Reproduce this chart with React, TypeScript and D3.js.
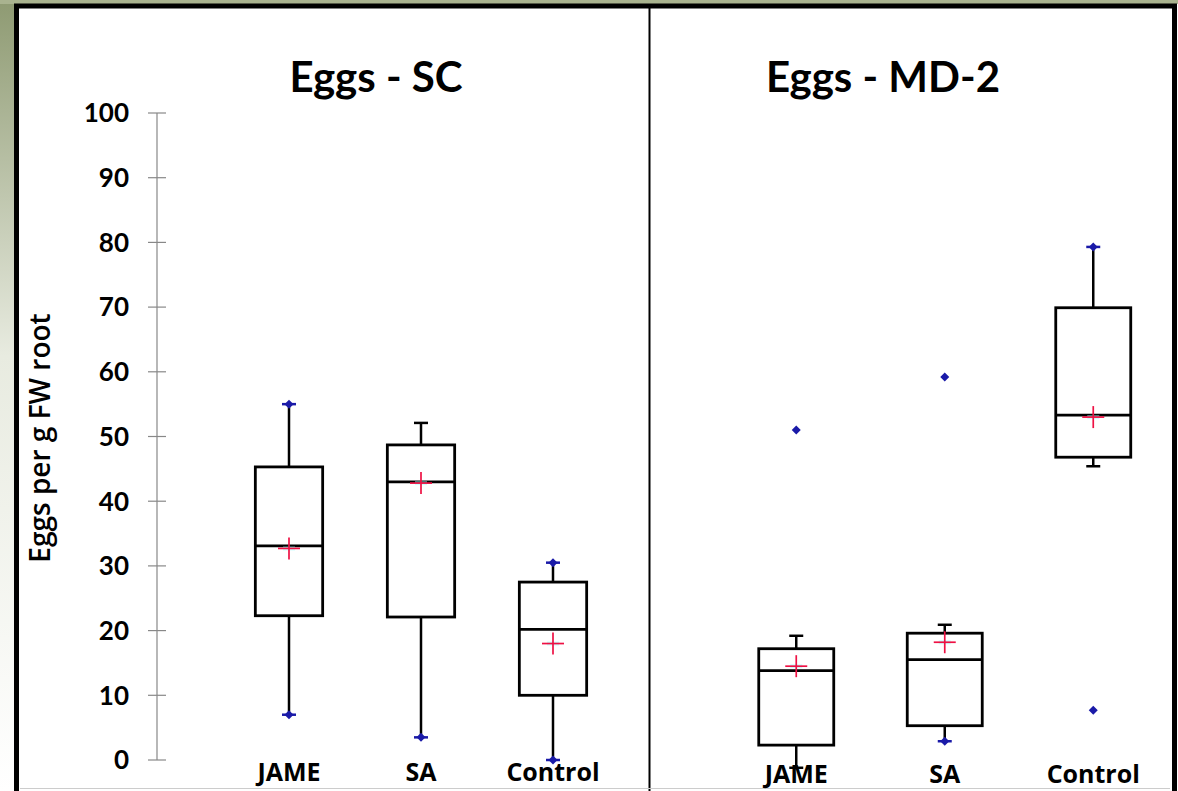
import React from "react";
import * as d3 from "d3";

const categories = ["JAME", "SA", "Control"];
const panelTitles = ["Eggs - SC", "Eggs - MD-2"];
const yTicks = [0, 10, 20, 30, 40, 50, 60, 70, 80, 90, 100];
const yLabel = "Eggs per g FW root";

// Eggs - SC
const scMin = [7, 3.5, 0];
const scQ1 = [22.3, 22.1, 10];
const scMedian = [33.1, 43.0, 20.2];
const scQ3 = [45.3, 48.7, 27.5];
const scMax = [55, 52.1, 30.5];
const scMean = [32.7, 42.8, 18.0];
const scPoints = [[7, 55], [3.5], [0, 30.5]];

// Eggs - MD-2
const mdMin = [-1.2, 2.9, 45.4];
const mdQ1 = [2.3, 5.3, 46.8];
const mdMedian = [13.8, 15.5, 53.3];
const mdQ3 = [17.2, 19.6, 69.9];
const mdMax = [19.2, 20.9, 79.3];
const mdMean = [14.5, 18.2, 53.0];
const mdPoints = [[51.0], [59.2, 2.9], [79.3, 7.7]];

const W = 1178;
const H = 791;
const FONT = "Lato, 'Open Sans', sans-serif";
const FONT2 = "'Open Sans', Lato, sans-serif";

const y = d3.scaleLinear().domain([0, 100]).range([760, 113]);

const xLeft = d3.scaleBand<string>().domain(categories).range([223, 619]).padding(0);
const xRight = d3.scaleBand<string>().domain(categories).range([722, 1167.5]).padding(0);

type Stats = {
  min: number[]; q1: number[]; median: number[]; q3: number[]; max: number[]; mean: number[]; points: number[][];
};

const scStats: Stats = { min: scMin, q1: scQ1, median: scMedian, q3: scQ3, max: scMax, mean: scMean, points: scPoints };
const mdStats: Stats = { min: mdMin, q1: mdQ1, median: mdMedian, q3: mdQ3, max: mdMax, mean: mdMean, points: mdPoints };

const BLUE = "#1a1aa8";
const RED = "#ee1144";

function Boxes({ x, s, boxFrac }: { x: d3.ScaleBand<string>; s: Stats; boxFrac: number }) {
  const bw = x.bandwidth() * boxFrac;
  return (
    <g>
      {categories.map((c, i) => {
        const cx = (x(c) as number) + x.bandwidth() / 2;
        const pts = s.points[i];
        const hasPt = (v: number) => pts.some((p) => Math.abs(p - v) < 0.01);
        const capW = 14;
        return (
          <g key={c}>
            <line x1={cx} x2={cx} y1={y(s.q3[i])} y2={y(s.max[i])} stroke="#000" strokeWidth={2.5} />
            <line x1={cx} x2={cx} y1={y(s.q1[i])} y2={y(s.min[i])} stroke="#000" strokeWidth={2.5} />
            {[s.min[i], s.max[i]].map((v, k) => (
              <line key={k} x1={cx - capW / 2} x2={cx + capW / 2} y1={y(v)} y2={y(v)}
                stroke={hasPt(v) ? BLUE : "#000"} strokeWidth={2.5} />
            ))}
            <rect x={cx - bw / 2} y={y(s.q3[i])} width={bw} height={y(s.q1[i]) - y(s.q3[i])}
              fill="none" stroke="#000" strokeWidth={2.8} />
            <line x1={cx - bw / 2} x2={cx + bw / 2} y1={y(s.median[i])} y2={y(s.median[i])} stroke="#000" strokeWidth={2.8} />
            <g stroke="#9ff" strokeWidth={4} opacity={0.5}>
              <line x1={cx - 6} x2={cx + 6} y1={y(s.mean[i])} y2={y(s.mean[i])} />
            </g>
            <g stroke={RED} strokeWidth={1.7}>
              <line x1={cx - 11} x2={cx + 11} y1={y(s.mean[i])} y2={y(s.mean[i])} />
              <line x1={cx} x2={cx} y1={y(s.mean[i]) - 11} y2={y(s.mean[i]) + 11} />
            </g>
            {pts.map((p, k) => (
              <path key={k} transform={`translate(${cx},${y(p)})`} d="M0,-4.5 L4.5,0 L0,4.5 L-4.5,0 Z" fill={BLUE} />
            ))}
          </g>
        );
      })}
    </g>
  );
}

export default function App() {
  const xl = (c: string) => (xLeft(c) as number) + xLeft.bandwidth() / 2;
  const xr = (c: string) => (xRight(c) as number) + xRight.bandwidth() / 2;
  return (
    <svg width={W} height={H} style={{ position: "fixed", left: 0, top: 0, background: "#fff" }} fontFamily={FONT}>
      <defs>
        <linearGradient id="side" x1="0" y1="0" x2="0" y2="1">
          <stop offset="0" stopColor="#8e9a72" />
          <stop offset="0.45" stopColor="#e8ebe0" />
          <stop offset="1" stopColor="#ffffff" />
        </linearGradient>
      </defs>
      <rect x={0} y={0} width={W} height={H} fill="#fff" />
      <rect x={0} y={0} width={16} height={H} fill="url(#side)" />
      <rect x={0} y={0} width={W} height={4} fill="#a9b38f" />
      <rect x={16.5} y={6} width={1158} height={H + 10} fill="#fff" stroke="#000" strokeWidth={5} />
      <line x1={649.5} x2={649.5} y1={8} y2={H} stroke="#000" strokeWidth={2} />
      <line x1={20} x2={1170} y1={788.5} y2={788.5} stroke="#ccc" strokeWidth={1} />

      <text x={376} y={92} textAnchor="middle" fontSize={42} fontWeight="bold">{panelTitles[0]}</text>
      <text x={883} y={92} textAnchor="middle" fontSize={42} fontWeight="bold">{panelTitles[1]}</text>

      <line x1={157} x2={157} y1={y(100)} y2={y(0)} stroke="#888" strokeWidth={1.2} />
      {yTicks.map((t) => (
        <g key={t}>
          <line x1={148} x2={166} y1={y(t)} y2={y(t)} stroke="#888" strokeWidth={1.2} />
          <text x={129} y={y(t)} dy="0.36em" textAnchor="end" fontSize={26} fontWeight="bold">{t}</text>
        </g>
      ))}
      <text transform={`translate(50,438) rotate(-90)`} textAnchor="middle" fontSize={28} fontWeight={600} fontFamily={FONT2}>{yLabel}</text>

      {categories.map((c) => (
        <text key={"l" + c} x={xl(c)} y={781} textAnchor="middle" fontSize={25} fontWeight="bold" fontFamily={FONT2}>{c}</text>
      ))}
      {categories.map((c) => (
        <text key={"r" + c} x={xr(c)} y={783} textAnchor="middle" fontSize={25} fontWeight="bold" fontFamily={FONT2}>{c}</text>
      ))}

      <Boxes x={xLeft} s={scStats} boxFrac={0.51} />
      <Boxes x={xRight} s={mdStats} boxFrac={0.505} />
    </svg>
  );
}
